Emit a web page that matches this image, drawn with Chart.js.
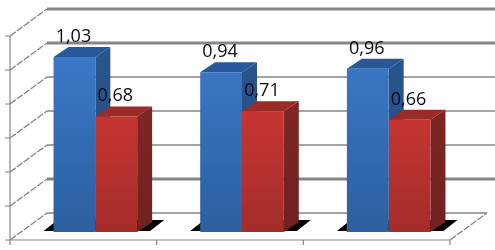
<!DOCTYPE html>
<html>
<head>
<meta charset="utf-8">
<style>
    html, body { margin: 0; padding: 0; background: #fff; }
    canvas { display: block; }
</style>
<script src="https://cdn.jsdelivr.net/npm/chart.js@4/dist/chart.umd.min.js"></script>
</head>
<body>
<canvas id="chart" width="495" height="250"></canvas>
<script>
const categories = ['1', '2', '3'];
const blueValues = [1.03, 0.94, 0.96];
const redValues = [0.68, 0.71, 0.66];
const gridValues = [0, 0.2, 0.4, 0.6, 0.8, 1, 1.2];
const thickGrid = [0.2, 1, 1.2];

// the fake 3D look, all in pixels
const frontDx = -12, frontDy = 8;   // front plane of the axis box
const backDx = 25, backDy = -19;    // back wall
const barDx = 15, barDy = -10;      // depth of one bar
const gridColor = '#868686';

function poly(ctx, pts, fill) {
    ctx.beginPath();
    pts.forEach((p, i) => i ? ctx.lineTo(p[0], p[1]) : ctx.moveTo(p[0], p[1]));
    ctx.closePath();
    ctx.fillStyle = fill;
    ctx.fill();
}

function line(ctx, x1, y1, x2, y2, width, dash) {
    ctx.beginPath();
    ctx.setLineDash(dash || []);
    ctx.moveTo(x1, y1);
    ctx.lineTo(x2, y2);
    ctx.lineWidth = width;
    ctx.strokeStyle = gridColor;
    ctx.stroke();
    ctx.setLineDash([]);
}

function vGradient(ctx, area, top, bottom) {
    const g = ctx.createLinearGradient(0, area.top, 0, area.bottom);
    g.addColorStop(0, top);
    g.addColorStop(1, bottom);
    return g;
}

const box3d = {
    id: 'box3d',
    beforeDatasetsDraw(chart) {
        const ctx = chart.ctx, area = chart.chartArea, y = chart.scales.y;
        const left = area.left + frontDx, right = area.right + frontDx;
        const floor = y.getPixelForValue(0);

        // back wall and the slanted lines on the left side
        gridValues.forEach(v => {
            const py = y.getPixelForValue(v);
            const w = thickGrid.includes(v) ? 3 : 1.7;
            line(ctx, area.left + backDx, py + backDy, v === 0 ? area.right + backDx : 495, py + backDy, w);
            line(ctx, left, py + frontDy, area.left + backDx, py + backDy, 1.3, [7, 1.5]);
            line(ctx, left - 5, py + frontDy, left, py + frontDy, 1);
        });
        line(ctx, right, floor + frontDy, area.right + backDx, floor + backDy, 1.3, [7, 1.5]);

        // front axis lines
        line(ctx, left, y.getPixelForValue(1.2) + frontDy, left, floor + frontDy + 5, 1.2);
        line(ctx, left, floor + frontDy, right, floor + frontDy, 1.2);
        categories.forEach((c, i) => {
            const px = left + (right - left) * (i + 1) / categories.length;
            line(ctx, px, floor + frontDy, px, floor + frontDy + 5, 1.2);
        });

        // black floor patches and bar depth faces
        const blue = chart.getDatasetMeta(0).data, red = chart.getDatasetMeta(1).data;
        blue.forEach((b, i) => {
            const x1 = b.x - b.width / 2, x2 = red[i].x + red[i].width / 2;
            poly(ctx, [[x1 - 10, floor - 1], [x2 + 13, floor - 1], [x2 + 27, floor - 12], [x1 + 4, floor - 12]], '#000');
        });
        [[blue, '#28589a', ['#2a5690', '#234a7c']], [red, '#9c2a27', ['#8a2a28', '#6f2120']]].forEach(([bars, topCol, side]) => {
            bars.forEach(b => {
                const x1 = b.x - b.width / 2, x2 = b.x + b.width / 2;
                poly(ctx, [[x1, b.y], [x1 + barDx, b.y + barDy], [x2 + barDx, b.y + barDy], [x2, b.y]], topCol);
                poly(ctx, [[x2, b.y], [x2 + barDx, b.y + barDy], [x2 + barDx, b.base + barDy], [x2, b.base]],
                    vGradient(ctx, area, side[0], side[1]));
            });
        });
    },
    afterDatasetsDraw(chart) {
        const ctx = chart.ctx;
        ctx.font = '18px "Open Sans"';
        ctx.fillStyle = '#0a0a14';
        ctx.textAlign = 'center';
        ctx.textBaseline = 'alphabetic';
        chart.data.datasets.forEach((ds, d) => {
            chart.getDatasetMeta(d).data.forEach((b, i) => {
                ctx.fillText(ds.data[i].toFixed(2).replace('.', ','), b.x - 1, b.y - 15);
            });
        });
    }
};

new Chart(document.getElementById('chart'), {
    type: 'bar',
    data: {
        labels: categories,
        datasets: [
            {
                data: blueValues,
                backgroundColor: c => c.chart.chartArea ? vGradient(c.chart.ctx, c.chart.chartArea, '#3d7cce', '#2c5f9e') : '#3d7cce'
            },
            {
                data: redValues,
                backgroundColor: c => c.chart.chartArea ? vGradient(c.chart.ctx, c.chart.chartArea, '#dc3c38', '#a52c2a') : '#dc3c38'
            }
        ]
    },
    options: {
        responsive: false,
        animation: false,
        layout: { padding: { left: 22, right: 33, top: 28, bottom: 18 } },
        datasets: { bar: { categoryPercentage: 0.57, barPercentage: 1 } },
        scales: {
            x: { display: false },
            y: { display: false, min: 0, max: 1.2 }
        },
        plugins: {
            legend: { display: false },
            tooltip: { enabled: false }
        }
    },
    plugins: [box3d]
});
</script>
</body>
</html>
